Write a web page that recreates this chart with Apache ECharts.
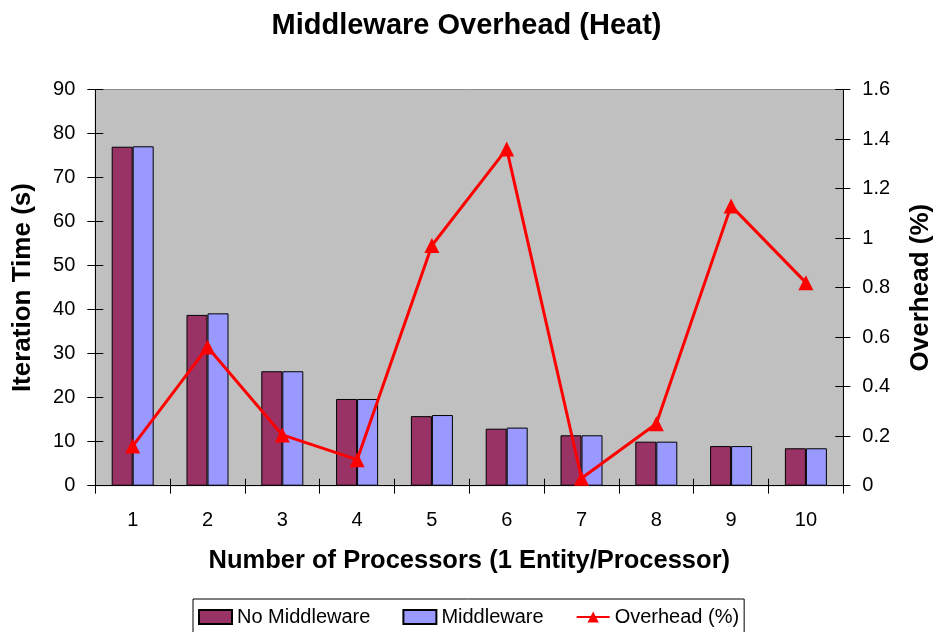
<!DOCTYPE html>
<html><head><meta charset="utf-8">
<script src="https://cdn.jsdelivr.net/npm/echarts@6/dist/echarts.min.js"></script>
<style>html,body{margin:0;padding:0;background:#fff}#c{width:933px;height:632px}</style>
</head><body><div id="c"></div>
<script>
const categories = ['1','2','3','4','5','6','7','8','9','10'];
const noMiddleware = [77.0, 38.8, 26.0, 19.7, 15.8, 12.95, 11.45, 10.0, 9.0, 8.5];
const middleware = [77.1, 39.15, 26.0, 19.7, 16.05, 13.2, 11.45, 10.0, 9.0, 8.5];
const overhead = [0.16, 0.56, 0.205, 0.105, 0.97, 1.36, 0.03, 0.25, 1.13, 0.82];
const leftTicks = {min: 0, max: 90, interval: 10};
const rightTicks = {min: 0, max: 1.6, interval: 0.2};

const FF = "'Liberation Sans', Arial, sans-serif";
const nameStyle = {fontFamily: FF, fontSize: 26, fontWeight: 'bold', color: '#000'};
const labelStyle = {fontFamily: FF, fontSize: 20, color: '#000'};
const chart = echarts.init(document.getElementById('c'), null, {renderer: 'canvas'});
chart.setOption({
  animation: false,
  backgroundColor: '#ffffff',
  title: {
    text: 'Middleware Overhead (Heat)', left: 'center', top: 6,
    textStyle: {fontFamily: FF, fontSize: 29, fontWeight: 'bold', color: '#000'}
  },
  grid: {left: 95.3, right: 89.7, top: 89.5, bottom: 146.3, containLabel: false, outerBoundsMode: 'none',
    show: true, backgroundColor: '#c0c0c0', borderColor: '#8c8c8c', borderWidth: 1},
  legend: {
    top: 599, left: 193,
    padding: [8, 5, 10, 5], itemGap: 32, itemWidth: 33, itemHeight: 14,
    borderColor: '#000', borderWidth: 1, borderRadius: 0,
    textStyle: {fontFamily: FF, fontSize: 20, color: '#000'},
    data: [
      {name: 'No Middleware', icon: 'rect'},
      {name: 'Middleware', icon: 'rect'},
      {name: 'Overhead (%)'}
    ]
  },
  xAxis: [
    {
      type: 'category', data: categories, boundaryGap: true,
      name: 'Number of Processors (1 Entity/Processor)', nameLocation: 'middle', nameGap: 62,
      nameTextStyle: {fontFamily: FF, fontSize: 25.5, fontWeight: 'bold', color: '#000'},
      axisLine: {lineStyle: {color: '#000', width: 1}},
      axisTick: {show: true, length: 8, lineStyle: {color: '#000'}},
      axisLabel: Object.assign({margin: 25}, labelStyle),
      splitLine: {show: false}
    },
    {
      type: 'category', data: categories, boundaryGap: true, position: 'bottom',
      axisLine: {show: false},
      axisTick: {show: true, inside: true, length: 7, lineStyle: {color: '#000'}},
      axisLabel: {show: false}, splitLine: {show: false}
    }
  ],
  yAxis: [
    {
      type: 'value', min: leftTicks.min, max: leftTicks.max, interval: leftTicks.interval,
      name: 'Iteration Time (s)', nameLocation: 'middle', nameGap: 59, nameRotate: 90,
      nameTextStyle: nameStyle,
      axisLine: {show: true, lineStyle: {color: '#000'}},
      axisTick: {show: true, length: 8, lineStyle: {color: '#000'}},
      axisLabel: Object.assign({margin: 20}, labelStyle),
      splitLine: {show: false}
    },
    {
      type: 'value', min: rightTicks.min, max: rightTicks.max, interval: rightTicks.interval,
      position: 'right',
      name: 'Overhead (%)', nameLocation: 'middle', nameGap: 65, nameRotate: 90,
      nameTextStyle: nameStyle,
      axisLine: {show: true, lineStyle: {color: '#000'}},
      axisTick: {show: true, length: 7, lineStyle: {color: '#000'}},
      axisLabel: Object.assign({margin: 19, formatter: v => String(Math.round(v * 10) / 10)}, labelStyle),
      splitLine: {show: false}
    },
    {
      type: 'value', min: leftTicks.min, max: leftTicks.max, interval: leftTicks.interval,
      position: 'left',
      axisLine: {show: false},
      axisTick: {show: true, inside: true, length: 8, lineStyle: {color: '#000'}},
      axisLabel: {show: false}, splitLine: {show: false}
    },
    {
      type: 'value', min: rightTicks.min, max: rightTicks.max, interval: rightTicks.interval,
      position: 'right',
      axisLine: {show: false},
      axisTick: {show: true, inside: true, length: 8, lineStyle: {color: '#000'}},
      axisLabel: {show: false}, splitLine: {show: false}
    }
  ],
  series: [
    {
      name: 'No Middleware', type: 'bar', data: noMiddleware, barWidth: 21, barGap: '0%',
      itemStyle: {color: '#993366', borderColor: '#000', borderWidth: 1}
    },
    {
      name: 'Middleware', type: 'bar', data: middleware, barWidth: 21, barGap: '0%',
      itemStyle: {color: '#9999ff', borderColor: '#000', borderWidth: 1}
    },
    {
      name: 'Overhead (%)', type: 'line', yAxisIndex: 1, data: overhead,
      symbol: 'triangle', symbolSize: 15, showSymbol: true,
      lineStyle: {color: '#ff0000', width: 3},
      itemStyle: {color: '#ff0000', borderWidth: 0}
    }
  ]
});
</script></body></html>
